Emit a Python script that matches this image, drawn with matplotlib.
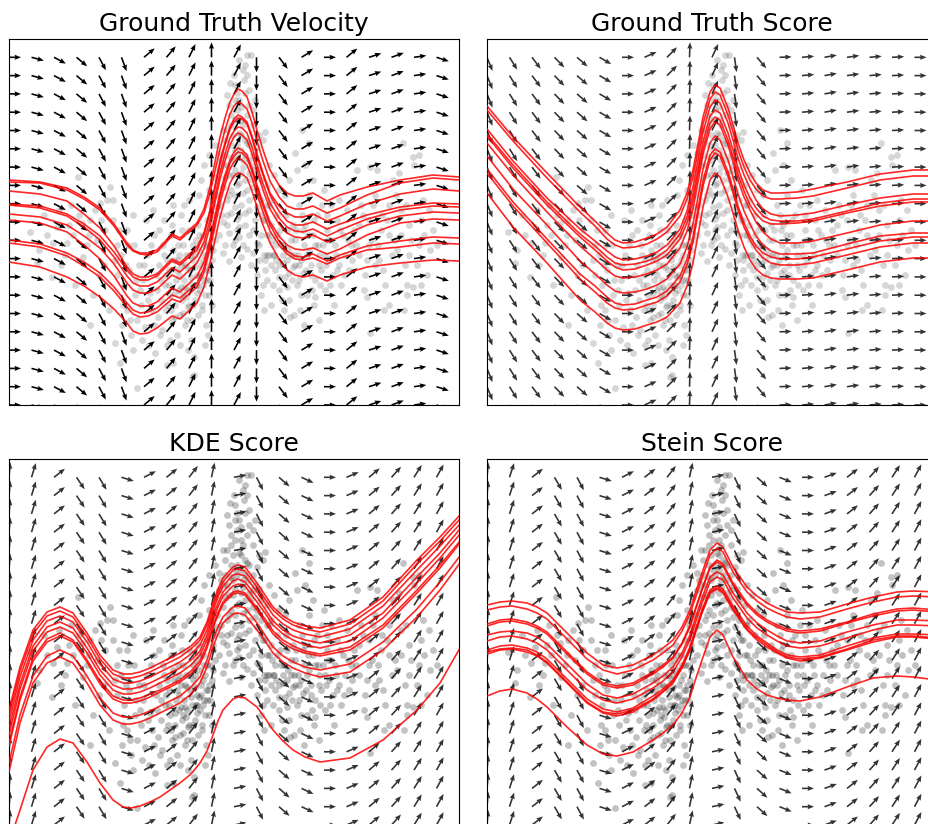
import matplotlib.pyplot as plt
import numpy as np

# arrow direction of each quiver column (degrees, same on every row)
vel_angles = [0, -15, -28, -40, -62, -70, 40, 50, 64, 90, 62, -90, -53, 31, 0, 39, 18, 20, 8, -18]
gts_angles = [-68, -58, -53, -46, -41, -30, 0, 24, 45, 88, 65, -82, -50, 2, 5, 10, 8, 5, 3, 0]
kde_angles = [85, 73, 38, -56, -59, -17, 27, 39, 52, 78, 11, -63, -41, -25, 0, 23, 40, 48, 58, 61]
stein_angles = [85, 72, 38, -60, -62, -17, 27, 38, 52, 78, 12, -65, -42, -22, 0, 20, 38, 48, 57, 62]

# data samples (same cloud in every panel)
cloud = np.array([
    # left arm
    (21, 173), (28, 142), (43, 128), (44, 162), (58, 162), (69, 228), (73, 182), (81, 185),
    (91, 202), (98, 205), (101, 218), (81, 80), (104, 185), (74, 148), (35, 190), (52, 140),
    (62, 200), (88, 165), (95, 140), (66, 120), (108, 160), (30, 155), (84, 110), (100, 95),
    (60, 180), (80, 170), (92, 185), (110, 175), (70, 190), (48, 178),
    (38, 170), (56, 150), (64, 170), (78, 160), (86, 195), (96, 175), (104, 205), (50, 195),
    (90, 130), (106, 145),
    # lower-left mass
    (112, 150), (115, 120), (118, 95), (120, 135), (122, 70), (125, 160), (126, 110), (128, 85),
    (130, 140), (111, 42), (106, 62), (128, 17), (118, 175), (124, 190),
    (132, 100), (134, 125), (136, 78), (138, 150), (140, 60), (141, 112), (143, 95), (145, 170),
    (146, 52), (147, 130), (149, 88), (150, 140), (137, 185), (144, 195),
    (152, 105), (153, 75), (155, 150), (156, 120), (157, 95), (158, 60), (160, 135), (161, 110),
    (162, 170), (163, 85), (165, 145), (166, 100), (167, 125), (168, 70), (169, 160), (170, 115),
    (155, 185), (164, 200), (158, 40),
    (171, 90), (172, 140), (173, 105), (174, 160), (175, 125), (176, 80), (177, 150), (178, 115),
    (179, 98), (180, 175), (181, 135), (182, 65), (183, 120), (184, 145), (185, 48), (186, 105),
    (187, 165), (188, 130), (189, 90), (190, 155), (172, 190), (180, 205), (185, 30),
    (191, 115), (192, 140), (193, 100), (194, 170), (195, 125), (196, 150), (197, 80), (198, 185),
    (199, 135), (200, 110), (201, 160), (202, 200), (203, 145), (204, 175), (196, 60), (200, 215),
    (192, 225), (176, 118), (182, 128), (188, 112), (178, 138), (190, 128), (184, 100), (194, 145),
    (170, 130), (186, 150), (198, 160), (166, 112), (174, 92), (164, 42), (183, 28), (124, 55),
    (152, 125), (158, 145), (162, 95), (168, 135), (172, 118), (176, 140), (180, 100), (184, 160),
    (188, 120), (192, 130), (196, 110), (200, 140), (204, 155), (178, 85), (170, 150), (186, 138),
    (194, 120), (160, 120), (174, 110), (190, 170), (198, 125), (164, 155),
    (114, 100), (117, 140), (121, 85), (127, 125), (133, 65), (135, 140), (139, 105), (142, 160),
    (148, 115), (151, 70), (154, 160), (157, 130), (159, 100), (163, 180), (166, 88), (169, 145),
    (171, 60), (173, 175), (177, 108), (181, 150), (183, 85), (187, 120), (189, 180), (193, 95),
    (195, 160), (197, 135), (201, 125), (203, 100), (205, 190), (199, 70), (179, 55), (161, 65),
    (145, 80), (131, 115), (119, 160), (108, 130), (113, 80), (150, 175), (175, 200), (190, 210),
    # peak column
    (242, 350), (236, 340), (230, 345), (225, 330), (235, 325), (221, 322), (240, 315), (228, 312),
    (246, 305), (220, 300), (232, 298), (238, 290), (226, 285), (244, 280), (214, 275), (230, 272),
    (236, 265), (222, 260), (248, 258), (210, 252), (228, 250), (240, 245), (218, 240), (234, 238),
    (250, 236), (224, 230), (206, 228), (242, 226), (230, 222), (214, 218), (238, 215), (226, 210),
    (246, 208), (218, 205), (232, 200), (208, 198), (240, 195), (222, 192), (252, 190), (228, 186),
    (214, 183), (236, 180), (244, 175), (220, 172), (230, 168), (206, 165), (248, 162), (224, 160),
    (238, 156), (214, 152), (232, 148), (255, 150), (220, 144), (242, 140), (204, 180), (258, 170),
    (210, 235), (252, 225), (200, 250), (260, 200), (228, 295), (218, 310), (234, 280), (238, 350),
    (195, 240), (256, 273), (254, 265), (226, 235), (232, 255), (222, 215), (236, 225), (230, 190),
    (240, 205), (218, 190), (228, 175), (234, 245), (224, 270),
    (216, 265), (226, 255), (238, 262), (244, 250), (212, 245), (222, 248), (232, 232), (246, 240),
    (216, 228), (228, 220), (240, 232), (220, 210), (234, 212), (244, 218), (212, 200), (226, 198),
    (236, 192), (248, 198), (218, 180), (230, 178), (240, 170), (226, 165), (234, 160), (216, 160),
    (244, 152), (232, 285), (222, 290), (240, 300), (226, 305), (236, 312),
    (208, 210), (212, 190), (216, 250), (220, 230), (224, 245), (228, 260), (232, 270), (236, 250),
    (240, 260), (244, 235), (248, 215), (252, 205), (256, 185), (210, 170), (214, 240), (218, 275),
    (222, 280), (230, 305), (238, 330), (244, 295), (250, 270), (206, 260), (226, 320), (234, 335),
    (246, 185), (202, 205), (258, 220), (260, 150),
    # right mass
    (248, 130), (250, 160), (252, 110), (254, 185), (256, 145), (258, 125), (260, 170), (262, 100),
    (264, 150), (266, 135), (268, 190), (270, 115), (272, 160), (274, 142), (276, 128), (278, 175),
    (280, 105), (282, 150), (284, 138), (286, 165), (288, 120), (290, 200), (292, 145), (294, 132),
    (296, 180), (298, 110), (300, 155), (302, 140), (304, 170), (306, 125), (308, 190), (310, 150),
    (312, 135), (314, 160), (316, 115), (318, 175), (320, 145), (322, 200), (324, 130), (326, 160),
    (328, 185), (330, 140), (332, 120), (334, 170), (336, 150), (338, 195), (340, 135), (342, 160),
    (262, 205), (270, 215), (280, 225), (285, 90), (295, 80), (305, 100), (300, 210), (315, 215),
    (275, 95), (265, 230), (296, 240), (310, 85), (255, 95), (325, 100), (293, 275), (286, 252),
    (300, 262), (265, 150), (270, 140), (275, 160), (280, 132), (285, 150), (290, 140), (268, 170),
    (278, 145), (262, 140), (295, 160), (281, 88), (306, 108),
    (252, 170), (258, 150), (262, 180), (266, 160), (270, 128), (274, 150), (278, 118), (282, 165),
    (286, 140), (290, 125), (294, 175), (298, 150), (302, 130), (306, 160), (310, 140), (316, 150),
    (322, 165), (328, 135), (256, 135), (284, 180), (264, 120), (292, 110),
    (250, 145), (254, 120), (258, 200), (263, 165), (267, 145), (271, 175), (273, 105), (277, 190),
    (279, 155), (283, 125), (287, 175), (289, 150), (291, 95), (293, 190), (297, 135), (299, 170),
    (303, 115), (305, 185), (309, 160), (311, 120), (313, 200), (317, 140), (319, 165), (321, 120),
    (327, 150), (331, 175), (335, 130), (339, 165), (343, 145), (260, 240), (276, 210), (288, 235),
    (304, 225), (318, 190), (330, 205),
    # right arm
    (345, 175), (350, 150), (352, 200), (356, 130), (360, 185), (363, 165), (366, 210), (370, 145),
    (373, 190), (376, 120), (380, 170), (384, 225), (388, 155), (392, 195), (396, 140), (400, 180),
    (405, 240), (410, 160), (414, 205), (418, 130), (424, 175), (404, 118), (390, 232), (368, 235),
    (358, 108), (380, 100), (398, 110), (410, 250), (398, 120), (421, 155), (404, 248), (394, 262),
    (361, 72), (361, 238), (348, 235), (350, 180), (360, 160), (372, 175), (386, 165), (400, 150),
    (412, 185), (380, 200), (366, 140),
    (347, 160), (354, 190), (358, 145), (364, 200), (369, 160), (374, 135), (378, 185), (383, 150),
    (387, 210), (392, 170), (397, 200), (402, 165), (408, 140), (415, 170), (420, 195), (428, 160),
    (355, 115), (375, 95), (395, 95), (412, 120),
])

# trajectories, Ground Truth Velocity
vel_x = [0, 31, 58, 75, 91, 105, 118, 124, 131, 139, 148, 163, 171, 188, 195, 201, 211, 216, 221,
         225, 229, 233, 238, 243, 248, 254, 261, 270, 278, 286, 294, 304, 318, 331, 358, 391, 424, 450]
vel_curves = [
    [225, 223, 217, 208, 197, 181, 162, 155, 152, 152, 155, 171, 167, 182, 196, 218, 268, 287, 303, 311, 316, 314, 308, 293, 275, 255, 235, 220, 212, 209, 209, 212, 204, 210, 218, 225, 230, 228],
    [223, 222, 215, 206, 195, 179, 160, 154, 151, 150, 153, 169, 165, 180, 192, 212, 256, 275, 291, 299, 303, 301, 296, 282, 264, 244, 224, 208, 199, 196, 196, 199, 192, 197, 210, 222, 227, 225],
    [214, 211, 204, 191, 177, 159, 138, 131, 128, 128, 131, 146, 142, 158, 172, 195, 244, 262, 278, 286, 290, 288, 283, 269, 251, 232, 212, 199, 192, 188, 188, 191, 184, 189, 201, 211, 216, 214],
    [201, 199, 191, 181, 169, 153, 135, 128, 125, 125, 129, 144, 140, 155, 170, 193, 241, 260, 276, 283, 287, 286, 281, 267, 249, 230, 210, 194, 184, 180, 180, 183, 176, 181, 190, 198, 202, 201],
    [200, 197, 189, 178, 165, 148, 129, 122, 119, 119, 123, 137, 133, 149, 163, 185, 232, 251, 267, 274, 278, 277, 272, 258, 240, 221, 202, 187, 178, 174, 173, 176, 169, 175, 186, 195, 199, 198],
    [191, 188, 180, 169, 157, 141, 122, 115, 112, 112, 116, 130, 126, 142, 156, 179, 226, 244, 260, 268, 272, 270, 265, 251, 234, 215, 196, 181, 172, 168, 167, 170, 163, 168, 180, 189, 193, 192],
    [185, 182, 173, 160, 146, 129, 109, 102, 99, 99, 103, 117, 113, 129, 143, 166, 212, 230, 245, 253, 257, 255, 250, 237, 220, 202, 183, 169, 160, 156, 155, 157, 151, 156, 170, 182, 186, 185],
    [165, 161, 152, 143, 132, 118, 102, 95, 92, 93, 97, 110, 107, 122, 137, 161, 208, 226, 242, 249, 253, 252, 247, 234, 217, 199, 180, 164, 154, 149, 148, 151, 144, 150, 159, 164, 168, 167],
    [162, 158, 149, 139, 128, 114, 98, 91, 88, 89, 93, 106, 103, 118, 133, 156, 202, 220, 236, 243, 247, 245, 240, 227, 211, 193, 174, 160, 151, 146, 145, 147, 141, 147, 155, 158, 162, 161],
    [143, 138, 128, 119, 108, 96, 82, 74, 71, 72, 77, 89, 86, 102, 118, 142, 188, 206, 222, 229, 232, 231, 227, 214, 198, 180, 162, 146, 135, 130, 128, 130, 124, 130, 138, 142, 145, 144],
]

# trajectories, Ground Truth Score
gts_x = [0, 26, 60, 93, 108, 120, 128, 136, 148, 160, 170, 180, 193, 200, 206, 211, 216, 223, 228,
         233, 241, 246, 251, 257, 263, 269, 276, 284, 293, 310, 326, 360, 393, 426, 450]
gts_curves = [
    [299, 268, 232, 198, 184, 172, 165, 162, 163, 167, 171, 178, 195, 212, 235, 261, 288, 313, 320, 317, 297, 280, 262, 245, 232, 222, 215, 212, 212, 213, 216, 223, 231, 235, 235],
    [295, 264, 227, 193, 179, 166, 160, 157, 158, 161, 166, 173, 189, 206, 228, 254, 281, 306, 313, 310, 290, 273, 255, 238, 225, 216, 209, 206, 206, 207, 209, 217, 225, 229, 229],
    [276, 244, 207, 176, 164, 154, 148, 145, 146, 149, 153, 160, 176, 194, 218, 245, 273, 298, 305, 302, 282, 265, 247, 230, 217, 205, 196, 191, 189, 190, 192, 200, 207, 211, 211],
    [271, 240, 203, 171, 159, 148, 142, 140, 141, 144, 148, 155, 171, 188, 210, 236, 263, 289, 295, 292, 272, 255, 237, 220, 207, 197, 189, 185, 184, 184, 186, 194, 202, 206, 206],
    [269, 237, 200, 168, 155, 144, 138, 135, 136, 140, 144, 150, 166, 182, 204, 230, 256, 282, 288, 285, 265, 248, 231, 214, 200, 191, 184, 181, 181, 182, 184, 192, 199, 203, 203],
    [262, 230, 193, 159, 146, 135, 129, 127, 128, 131, 135, 141, 157, 174, 196, 223, 251, 276, 283, 280, 260, 243, 225, 208, 195, 183, 173, 166, 162, 162, 164, 172, 180, 184, 184],
    [249, 216, 180, 144, 131, 120, 114, 112, 113, 116, 120, 126, 141, 158, 181, 208, 236, 262, 269, 265, 245, 228, 211, 194, 181, 169, 160, 154, 151, 151, 152, 161, 169, 172, 172],
    [236, 203, 166, 131, 119, 108, 102, 100, 101, 105, 108, 114, 129, 146, 168, 196, 224, 250, 256, 253, 233, 216, 199, 182, 169, 159, 152, 148, 146, 146, 148, 156, 164, 168, 168],
    [232, 199, 162, 126, 113, 102, 97, 95, 96, 100, 103, 109, 123, 140, 163, 191, 219, 245, 252, 249, 229, 212, 195, 178, 165, 155, 147, 142, 140, 140, 142, 150, 158, 162, 162],
    [212, 178, 142, 105, 93, 82, 77, 75, 76, 80, 83, 88, 102, 119, 142, 170, 198, 225, 232, 228, 208, 192, 175, 158, 145, 136, 130, 127, 126, 126, 127, 135, 143, 147, 147],
]

# trajectories, KDE Score
kde_x = [0, 11, 24, 38, 51, 64, 78, 91, 104, 114, 122, 131, 141, 151, 171, 182, 191, 198, 204, 209,
         214, 224, 229, 236, 248, 256, 264, 274, 284, 296, 311, 341, 374, 408, 431, 451]
kde_curves = [
    [115, 158, 195, 213, 218, 212, 192, 170, 155, 151, 151, 153, 157, 162, 172, 179, 188, 203, 222, 236, 247, 258, 260, 258, 242, 230, 218, 209, 203, 199, 197, 205, 228, 265, 288, 310],
    [110, 154, 191, 209, 214, 208, 188, 166, 151, 147, 147, 149, 153, 158, 168, 176, 185, 200, 218, 232, 243, 255, 256, 254, 238, 226, 215, 206, 200, 196, 193, 201, 224, 261, 284, 306],
    [104, 148, 185, 204, 209, 203, 183, 161, 146, 142, 142, 144, 148, 153, 163, 171, 180, 195, 214, 228, 239, 250, 251, 249, 233, 222, 210, 201, 195, 191, 188, 196, 219, 255, 279, 301],
    [97, 141, 179, 198, 203, 197, 177, 155, 140, 136, 136, 138, 142, 147, 157, 165, 174, 190, 209, 222, 233, 244, 246, 243, 228, 216, 204, 195, 189, 185, 182, 190, 212, 248, 272, 296],
    [90, 136, 174, 193, 198, 192, 172, 150, 135, 131, 131, 133, 137, 142, 152, 160, 170, 185, 204, 218, 229, 239, 241, 239, 223, 212, 200, 191, 185, 180, 177, 184, 207, 242, 267, 291],
    [82, 128, 167, 186, 192, 185, 165, 144, 129, 125, 125, 127, 131, 135, 145, 154, 164, 180, 199, 212, 223, 233, 234, 232, 217, 206, 194, 185, 179, 174, 171, 178, 200, 235, 260, 284],
    [79, 125, 164, 183, 189, 183, 163, 141, 126, 122, 122, 124, 128, 133, 143, 151, 161, 177, 197, 210, 221, 231, 232, 230, 215, 203, 191, 182, 176, 172, 169, 175, 197, 232, 257, 282],
    [62, 110, 149, 169, 175, 169, 149, 127, 112, 108, 108, 110, 114, 119, 129, 138, 148, 165, 185, 198, 208, 218, 219, 217, 202, 190, 178, 169, 163, 158, 155, 161, 183, 216, 243, 269],
    [53, 102, 142, 162, 168, 162, 142, 120, 105, 101, 101, 103, 107, 112, 122, 131, 142, 158, 178, 191, 202, 211, 212, 210, 195, 184, 172, 163, 157, 152, 148, 153, 175, 208, 235, 262],
    [-18, 15, 55, 78, 86, 82, 63, 42, 25, 18, 17, 19, 23, 28, 42, 51, 62, 74, 90, 104, 115, 126, 128, 127, 118, 107, 95, 84, 75, 68, 63, 67, 85, 115, 142, 177],
]

# trajectories, Stein Score
stein_x = [0, 13, 25, 40, 50, 60, 70, 80, 100, 116, 130, 146, 166, 176, 186, 195, 203, 209, 215,
           223, 230, 236, 246, 253, 260, 270, 280, 290, 300, 313, 333, 360, 386, 410, 426, 450]
stein_curves = [
    [220, 223, 224, 222, 218, 212, 202, 192, 172, 160, 157, 160, 170, 177, 185, 198, 215, 234, 252, 275, 282, 278, 258, 248, 238, 229, 222, 217, 213, 212, 213, 221, 228, 233, 234, 233],
    [215, 218, 219, 216, 212, 206, 196, 186, 166, 155, 151, 155, 165, 172, 180, 194, 211, 229, 247, 270, 277, 273, 253, 243, 233, 224, 217, 212, 208, 206, 208, 216, 223, 228, 229, 228],
    [201, 205, 206, 203, 199, 193, 183, 173, 153, 142, 139, 142, 153, 160, 168, 182, 200, 218, 236, 258, 265, 261, 242, 232, 222, 212, 205, 200, 196, 194, 196, 203, 211, 216, 217, 215],
    [199, 203, 204, 201, 197, 191, 181, 171, 151, 140, 137, 140, 151, 158, 167, 181, 198, 217, 235, 257, 263, 259, 240, 230, 220, 210, 203, 198, 194, 192, 194, 202, 209, 214, 215, 213],
    [190, 193, 194, 192, 188, 181, 171, 161, 141, 130, 127, 131, 142, 149, 158, 172, 190, 209, 227, 248, 253, 250, 232, 222, 212, 202, 195, 189, 184, 182, 184, 193, 200, 205, 205, 204],
    [184, 188, 189, 186, 182, 175, 165, 155, 135, 125, 122, 126, 137, 144, 153, 168, 186, 204, 222, 243, 248, 245, 227, 217, 207, 197, 190, 184, 179, 177, 179, 187, 195, 200, 200, 199],
    [175, 179, 180, 177, 173, 166, 156, 146, 126, 116, 113, 117, 129, 136, 145, 160, 178, 197, 215, 235, 239, 236, 219, 209, 199, 189, 182, 175, 170, 168, 170, 179, 187, 191, 191, 190],
    [173, 176, 177, 175, 170, 163, 153, 143, 123, 113, 111, 115, 126, 134, 143, 158, 176, 195, 213, 233, 237, 234, 216, 206, 196, 187, 180, 173, 168, 166, 168, 176, 185, 189, 189, 187],
    [171, 175, 176, 173, 169, 162, 152, 142, 122, 112, 109, 113, 125, 133, 142, 157, 175, 194, 212, 232, 236, 232, 215, 205, 195, 185, 178, 172, 167, 164, 167, 175, 183, 188, 188, 186],
    [129, 134, 136, 132, 126, 118, 108, 98, 80, 71, 69, 73, 85, 92, 100, 112, 128, 147, 165, 188, 195, 190, 168, 157, 145, 136, 130, 127, 125, 124, 128, 138, 147, 149, 148, 145],
]

titles = ["Ground Truth Velocity", "Ground Truth Score", "KDE Score", "Stein Score"]
panels = [
    (vel_angles, vel_x, vel_curves, 0.16, "black"),
    (gts_angles, gts_x, gts_curves, 0.16, "0.2"),
    (kde_angles, kde_x, kde_curves, 0.24, "0.2"),
    (stein_angles, stein_x, stein_curves, 0.24, "0.2"),
]

fig = plt.figure(figsize=(9.29, 8.24), dpi=100)
W, H = 450, 366
rects = [
    [9 / 929, 419 / 824, W / 929, H / 824],
    [487 / 929, 419 / 824, W / 929, H / 824],
    [9 / 929, -1 / 824, W / 929, H / 824],
    [487 / 929, -1 / 824, W / 929, H / 824],
]

gx = np.arange(20) * W / 20
gy = np.arange(20) * H / 20
X, Y = np.meshgrid(gx, gy)

for title, (ang, cx, curves, a_pts, acol), rect in zip(titles, panels, rects):
    ax = fig.add_axes(rect)
    th = np.deg2rad(np.array(ang, dtype=float))
    L = 12 + 3 * np.abs(np.sin(th))  # arrow length in pixels
    U = np.tile(L * np.cos(th), (20, 1))
    V = np.tile(L * np.sin(th), (20, 1))
    ax.quiver(X, Y, U, V, angles='uv', scale_units='dots', scale=1,
              width=0.0036, headwidth=3.2, headlength=4, headaxislength=3.6,
              color=acol, zorder=1)
    ax.scatter(cloud[:, 0], cloud[:, 1], s=24, color='black', alpha=a_pts,
               linewidths=0, zorder=2)
    for c in curves:
        ax.plot(cx, c, color='red', lw=1.2, alpha=0.85, zorder=3)
    ax.set_xlim(0, W)
    ax.set_ylim(0, H)
    ax.set_xticks([])
    ax.set_yticks([])
    ax.set_title(title, fontsize=18)

fig.savefig('out.png', dpi=100)
